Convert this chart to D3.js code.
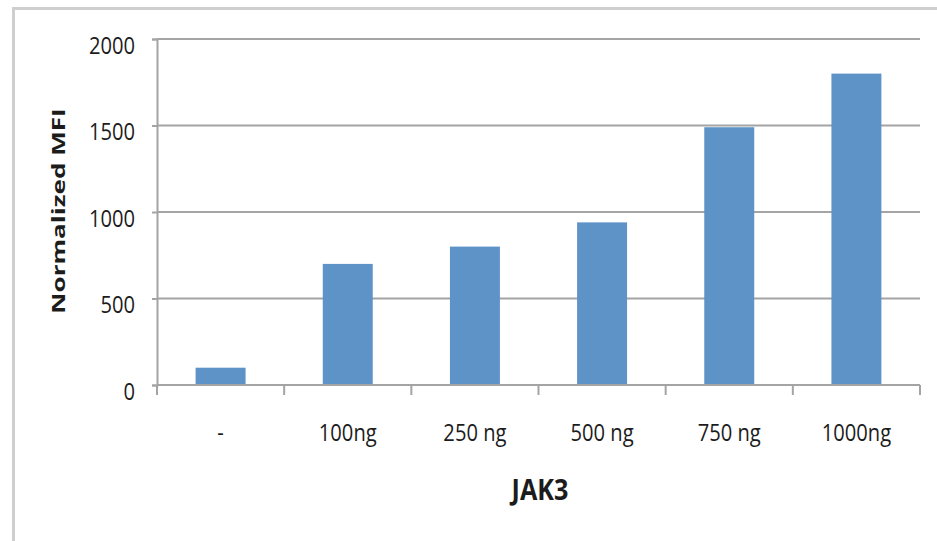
<!DOCTYPE html>
<html>
<head>
<meta charset="utf-8">
<script src="https://cdn.jsdelivr.net/npm/d3@7"></script>
<style>
  html, body { margin: 0; padding: 0; background: #fff; }
  svg { display: block; }
  text { font-family: "Open Sans", sans-serif; fill: #1c1c1c; }
</style>
</head>
<body>
<svg id="chart" width="937" height="541"></svg>
<script>
// JAK3 dose vs normalized MFI
const categories = ["-", "100ng", "250 ng", "500 ng", "750 ng", "1000ng"];
const mfiValues = [100, 700, 800, 940, 1490, 1800];
const yTicks = [0, 500, 1000, 1500, 2000];
const yTitle = "Normalized MFI";
const xTitle = "JAK3";

const svg = d3.select("#chart");
const W = 937, H = 541;
const margin = { left: 157, right: 17, top: 39, bottom: 156 };
const innerW = W - margin.left - margin.right;
const innerH = H - margin.top - margin.bottom;
const gridColor = "#a4a4a4";
const narrow = 0.84; // horizontal squeeze for a condensed label look

// outer chart frame
svg.append("rect")
  .attr("x", 13.5).attr("y", 8.5)
  .attr("width", W + 20).attr("height", H + 20)
  .attr("fill", "#fff")
  .attr("stroke", "#cfcfcf").attr("stroke-width", 3);

const g = svg.append("g").attr("transform", `translate(${margin.left},${margin.top})`);

const x = d3.scaleBand().domain(categories).range([0, innerW]).paddingInner(0.607).paddingOuter(0.3035);
const y = d3.scaleLinear().domain([0, 2000]).range([innerH, 0]);

// gridlines
g.append("g").selectAll("line").data(yTicks.filter(d => d > 0)).join("line")
  .attr("x1", 0).attr("x2", innerW)
  .attr("y1", d => y(d)).attr("y2", d => y(d))
  .attr("stroke", gridColor).attr("stroke-width", 2);

// y axis
const yAxis = g.append("g").call(d3.axisLeft(y).tickValues(yTicks).tickSize(5).tickFormat(d3.format("d")));
yAxis.select(".domain").attr("stroke", gridColor).attr("stroke-width", 2);
yAxis.selectAll(".tick line").attr("stroke", gridColor).attr("stroke-width", 2);
yAxis.selectAll(".tick text")
  .attr("x", 0).attr("dy", null)
  .attr("text-anchor", "end")
  .attr("transform", `translate(-22,14) scale(${narrow},1)`)
  .attr("font-size", 24).attr("fill", "#1c1c1c");

// bars
g.append("g").selectAll("rect").data(categories).join("rect")
  .attr("x", d => x(d))
  .attr("width", x.bandwidth())
  .attr("y", (d, i) => y(mfiValues[i]))
  .attr("height", (d, i) => innerH - y(mfiValues[i]))
  .attr("fill", "#5e93c8");

// x axis baseline, category separators and labels
const xAxisG = g.append("g").attr("transform", `translate(0,${innerH})`);
xAxisG.append("line").attr("x1", 0).attr("x2", innerW).attr("stroke", gridColor).attr("stroke-width", 2);
const bounds = d3.range(categories.length + 1).map(i => i * x.step() + (x.range()[0]));
xAxisG.selectAll("line.sep").data(bounds).join("line").attr("class", "sep")
  .attr("x1", d => d).attr("x2", d => d).attr("y1", 0).attr("y2", 10)
  .attr("stroke", gridColor).attr("stroke-width", 2);
xAxisG.selectAll("text.cat").data(categories).join("text").attr("class", "cat")
  .attr("text-anchor", "middle")
  .attr("transform", d => `translate(${x(d) + x.bandwidth() / 2},56) scale(${narrow},1)`)
  .attr("font-size", 24)
  .text(d => d);

// axis titles
svg.append("text")
  .attr("transform", `translate(65,211) rotate(-90) scale(1.45,1)`)
  .attr("text-anchor", "middle")
  .attr("font-size", 18).attr("font-weight", "bold")
  .text(yTitle);

svg.append("text")
  .attr("transform", `translate(540,500) scale(0.9,1)`)
  .attr("text-anchor", "middle")
  .attr("font-size", 28).attr("font-weight", "bold")
  .text(xTitle);
</script>
</body>
</html>
